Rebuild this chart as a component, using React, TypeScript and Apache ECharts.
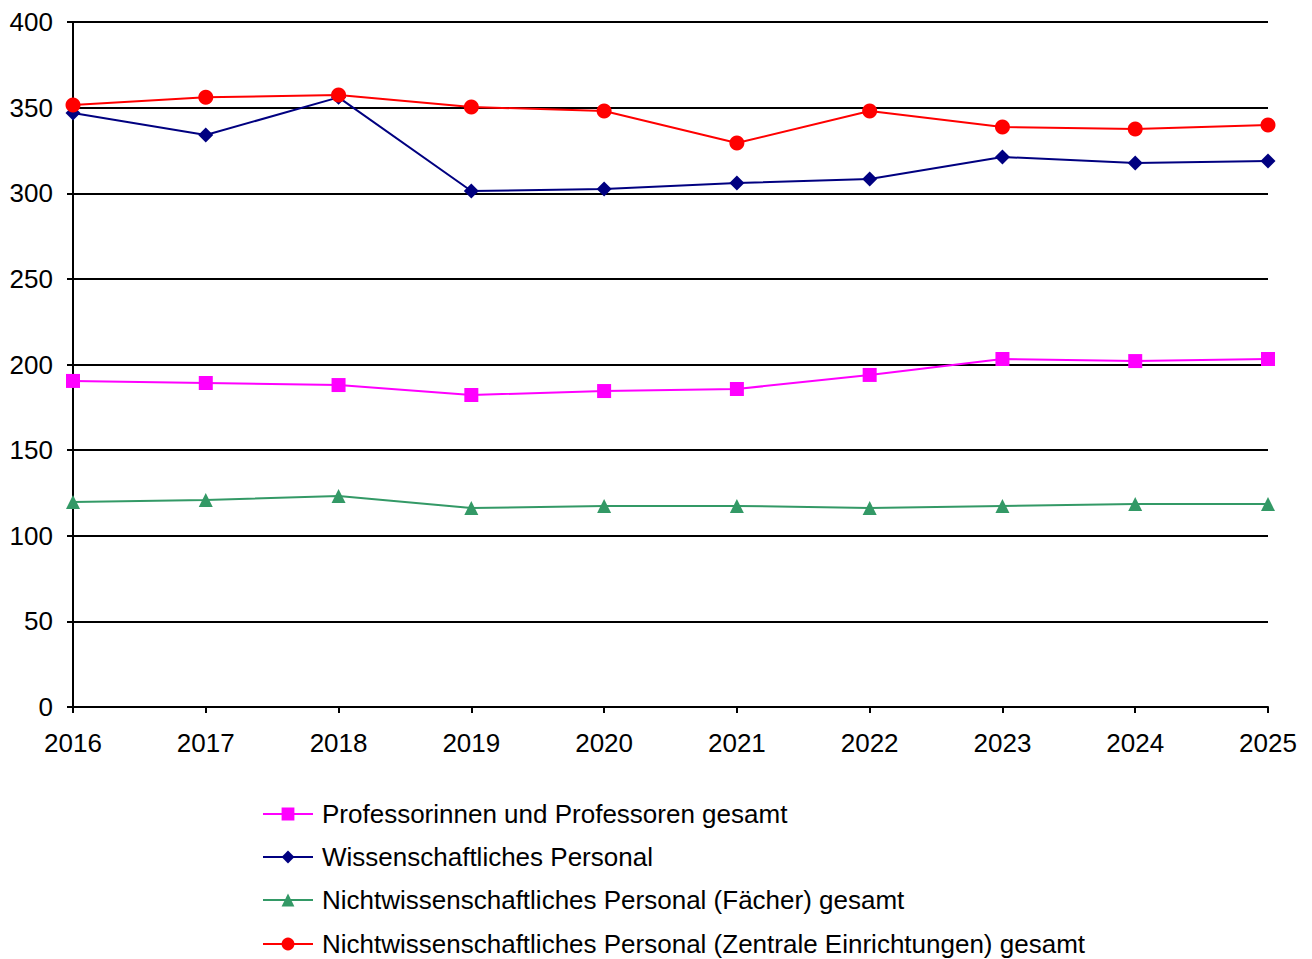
import React, { useEffect, useRef } from "react";
import * as echarts from "echarts";

const years = ["2016", "2017", "2018", "2019", "2020", "2021", "2022", "2023", "2024", "2025"];
const professoren = [190.4, 189.2, 188, 182.2, 184.5, 185.7, 193.9, 203.2, 202, 203.2];
const wissenschaftlich = [346.9, 334, 356, 301.3, 302.5, 306, 308.3, 321.2, 317.6, 318.8];
const nichtFaecher = [119.7, 120.9, 123.2, 116.2, 117.4, 117.4, 116.2, 117.4, 118.5, 118.5];
const nichtZentral = [351.5, 356, 357.4, 350.4, 348, 329.3, 348, 338.7, 337.5, 339.9];

const names = [
  "Professorinnen und Professoren gesamt",
  "Wissenschaftliches Personal",
  "Nichtwissenschaftliches Personal (Fächer) gesamt",
  "Nichtwissenschaftliches Personal (Zentrale Einrichtungen) gesamt",
];

const font = "'Liberation Sans', Arial, sans-serif";

export default function App() {
  const ref = useRef<HTMLDivElement>(null);
  useEffect(() => {
    if (!ref.current) return;
    const chart = echarts.init(ref.current, undefined, { renderer: "svg" });
    const mk = (name: string, data: number[], color: string, symbol: string, size: number) => ({
      name,
      type: "line",
      data,
      symbol,
      symbolSize: size,
      lineStyle: { color, width: 2 },
      itemStyle: { color },
      emphasis: { disabled: true },
    });
    const legendTops = [801, 844, 887, 931];
    chart.setOption({
      animation: false,
      textStyle: { fontFamily: font },
      grid: { left: 73, right: 44, top: 22, bottom: 252, containLabel: false },
      legend: names.map((n, i) => ({
        orient: "vertical",
        left: 262,
        top: legendTops[i],
        padding: 0,
        itemGap: 0,
        itemWidth: 50,
        itemHeight: 16,
        textStyle: { fontSize: 26, color: "#000", fontFamily: font, padding: [0, 0, 0, 4] },
        data: [n],
      })),
      xAxis: {
        type: "category",
        data: years,
        boundaryGap: false,
        axisLine: { lineStyle: { color: "#000", width: 2 } },
        axisTick: { show: true, alignWithLabel: true, length: 6, lineStyle: { color: "#000", width: 2 } },
        axisLabel: { fontSize: 26, color: "#000", margin: 23, fontFamily: font },
        splitLine: { show: false },
      },
      yAxis: {
        type: "value",
        min: 0,
        max: 400,
        interval: 50,
        axisLine: { show: true, lineStyle: { color: "#000", width: 2 } },
        axisTick: { show: true, length: 6, lineStyle: { color: "#000", width: 2 } },
        axisLabel: { fontSize: 26, color: "#000", margin: 20, fontFamily: font },
        splitLine: { show: true, lineStyle: { color: "#000", width: 2 } },
      },
      series: [
        mk(names[0], professoren, "#FF00FF", "rect", 14),
        mk(names[1], wissenschaftlich, "#000080", "diamond", 15),
        mk(names[2], nichtFaecher, "#339966", "triangle", 14),
        mk(names[3], nichtZentral, "#FF0000", "circle", 15),
      ],
    });
    return () => chart.dispose();
  }, []);
  return (
    <div
      ref={ref}
      style={{ position: "absolute", left: 0, top: 0, width: 1312, height: 959, background: "#fff" }}
    />
  );
}
